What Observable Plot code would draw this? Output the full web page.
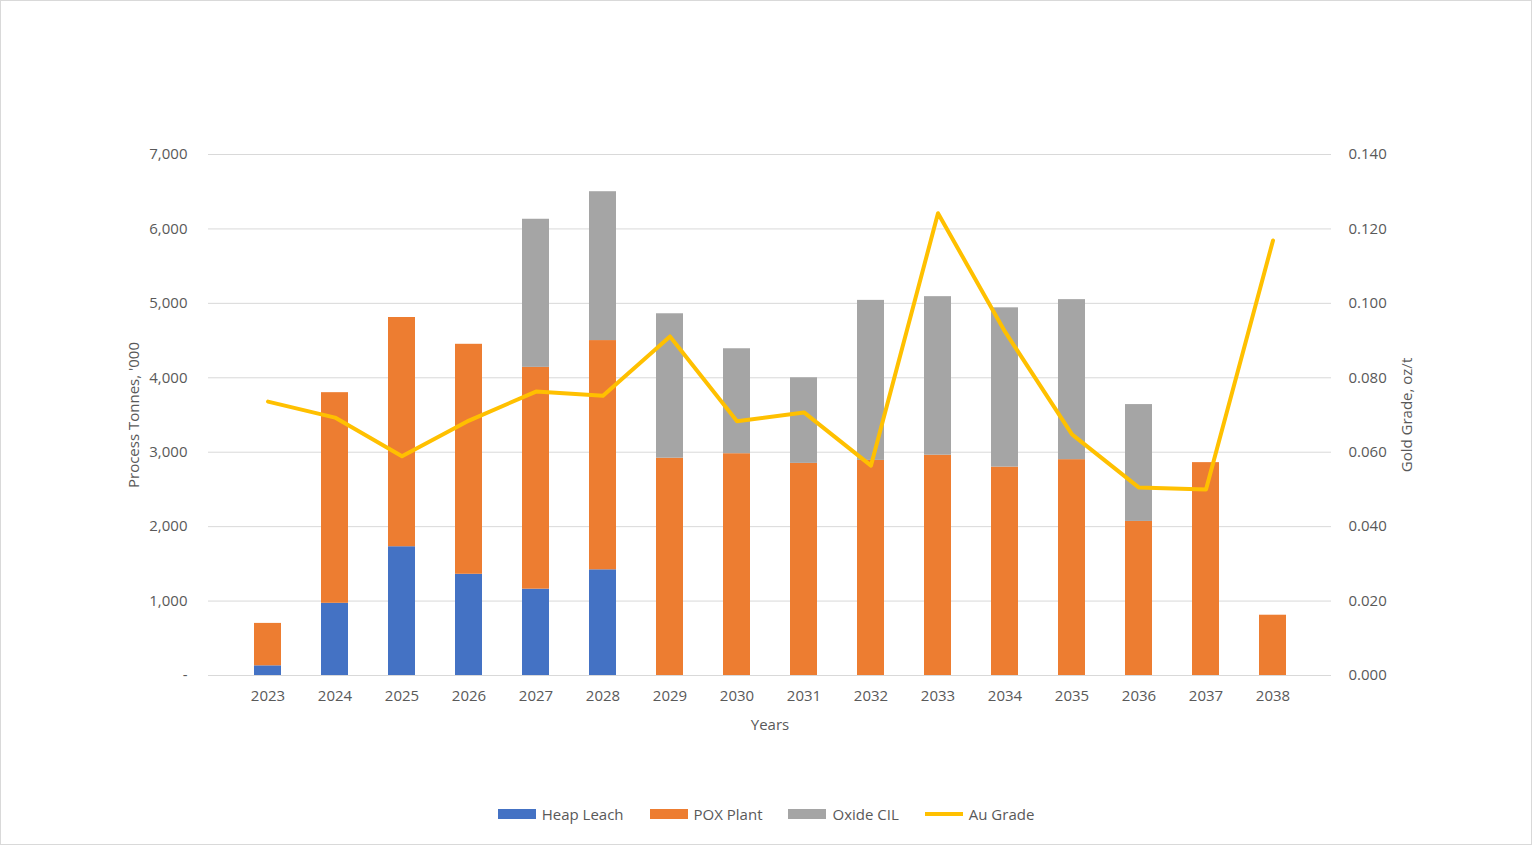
<!DOCTYPE html>
<html><head><meta charset="utf-8">
<script src="https://cdn.jsdelivr.net/npm/d3@7"></script>
<script src="https://cdn.jsdelivr.net/npm/@observablehq/plot@0.6"></script>
<style>
body{margin:0;background:#fff;font-family:"Open Sans",sans-serif;}
#wrap{position:relative;width:1530px;height:843px;border:1px solid #d9d9d9;}
#legend{position:absolute;top:803px;left:0;width:1530px;display:flex;justify-content:center;gap:26px;font-size:15px;color:#595959;}
#legend span{display:flex;align-items:center;gap:6px;}
</style></head><body>
<div id="wrap"><div id="chart"></div><div id="legend"></div></div>
<script>
const years=["2023","2024","2025","2026","2027","2028","2029","2030","2031","2032","2033","2034","2035","2036","2037","2038"];
const heapLeach=[130,970,1730,1360,1160,1420,0,0,0,0,0,0,0,0,0,0];
const poxPlant=[570,2830,3080,3090,2980,3080,2920,2980,2850,2890,2960,2800,2900,2070,2860,810];
const oxideCIL=[0,0,0,0,1990,2000,1940,1410,1150,2150,2130,2140,2150,1570,0,0];
const auGrade=[0.0736,0.0693,0.0589,0.0685,0.0763,0.0752,0.0911,0.0683,0.0707,0.0564,0.1242,0.0924,0.0648,0.0505,0.0500,0.1169];
const seriesNames=["Heap Leach","POX Plant","Oxide CIL"];
const colors=["#4472C4","#ED7D31","#A5A5A5"];
const lineColor="#FFC000";
const yTicks=[0,1000,2000,3000,4000,5000,6000,7000];
const gTicks=[0,0.02,0.04,0.06,0.08,0.1,0.12,0.14];
const k=50000;
const bars=[];
[heapLeach,poxPlant,oxideCIL].forEach((arr,i)=>arr.forEach((v,j)=>bars.push({year:years[j],series:seriesNames[i],value:v})));
const line=years.map((y,i)=>({year:y,g:auGrade[i]*k}));
const chart=Plot.plot({
  width:1530,height:790,marginLeft:207,marginRight:200,marginTop:153,marginBottom:116,
  style:{fontFamily:"Open Sans, sans-serif",fontSize:"15px",color:"#595959",background:"#fff"},
  x:{domain:years,padding:0.6,label:null},
  y:{domain:[0,7000]},
  color:{domain:seriesNames,range:colors},
  marks:[
    Plot.gridY(yTicks,{stroke:"#d9d9d9",strokeOpacity:1}),
    Plot.barY(bars,{x:"year",y:"value",fill:"series",order:seriesNames}),
    Plot.ruleY([0],{stroke:"#d9d9d9"}),
    Plot.line(line,{x:"year",y:"g",stroke:lineColor,strokeWidth:4}),
    Plot.axisX({tickSize:0,tickPadding:15,label:"Years",labelAnchor:"center",labelOffset:54,labelArrow:"none"}),
    Plot.axisY(yTicks,{anchor:"left",tickSize:0,tickPadding:21,tickFormat:d=>d===0?"-":d3.format(",")(d),label:"Process Tonnes, '000",labelAnchor:"center",labelOffset:80,labelArrow:"none"}),
    Plot.axisY(gTicks.map(d=>d*k),{anchor:"right",tickSize:0,tickPadding:17,tickFormat:d=>(d/k).toFixed(3),label:"Gold Grade, oz/t",labelAnchor:"center",labelOffset:80,labelArrow:"none"})
  ]
});
document.getElementById("chart").append(chart);
const lg=document.getElementById("legend");
seriesNames.forEach((n,i)=>{lg.insertAdjacentHTML("beforeend",`<span><i style="display:inline-block;width:38px;height:10px;background:${colors[i]}"></i>${n}</span>`);});
lg.insertAdjacentHTML("beforeend",`<span><i style="display:inline-block;width:38px;height:4px;background:${lineColor}"></i>Au Grade</span>`);
</script></body></html>
